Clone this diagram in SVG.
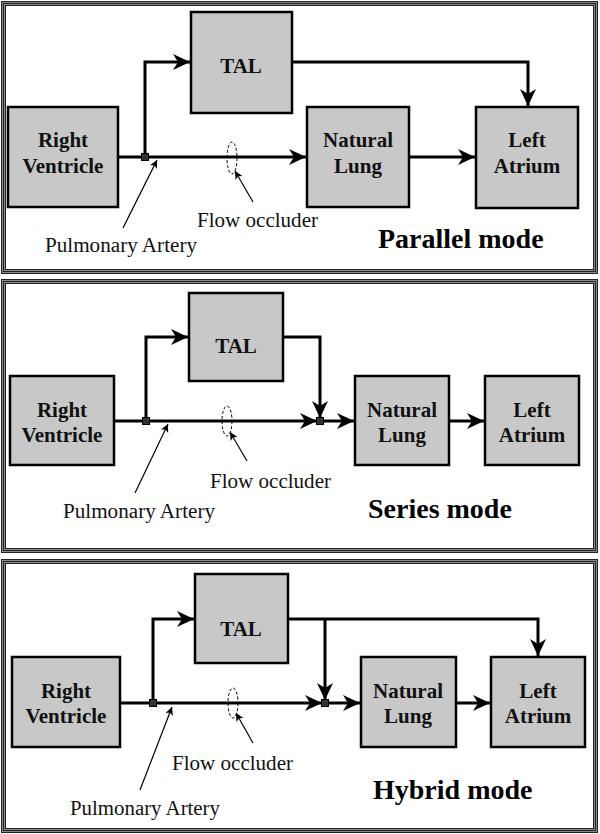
<svg xmlns="http://www.w3.org/2000/svg" width="600" height="834" viewBox="0 0 600 834">
<defs>
<marker id="ah" markerUnits="userSpaceOnUse" markerWidth="20" markerHeight="20" refX="17" refY="8" orient="auto">
<path d="M0,0 L17,8 L0,16 L5,8 z" fill="#000"/>
</marker>
<marker id="ph" markerUnits="userSpaceOnUse" markerWidth="10" markerHeight="10" refX="8" refY="4" orient="auto">
<path d="M0,0 L8,4 L0,8 L2,4 z" fill="#000"/>
</marker>
<style>
.fg{fill:none;stroke:#8a8a8a;stroke-width:5}
.fd{fill:none;stroke:#222;stroke-width:1}
.box{fill:#c8c8c8;stroke:#000;stroke-width:2.5}
.bl{font-family:"Liberation Serif",serif;font-weight:bold;font-size:21px;text-anchor:middle;fill:#111}
.md{font-family:"Liberation Serif",serif;font-weight:bold;font-size:28px;fill:#000}
.lb{font-family:"Liberation Serif",serif;font-size:20px;fill:#111}
.cn{fill:none;stroke:#000;stroke-width:3;marker-end:url(#ah)}
.pt{fill:none;stroke:#000;stroke-width:1.2;marker-end:url(#ph)}
.oc{fill:none;stroke:#000;stroke-width:1;stroke-dasharray:3,2}
.jn{fill:#333;stroke:#000;stroke-width:1}
</style>
</defs>
<rect width="600" height="834" fill="#fff"/>
<g id="frames">
<rect class="fg" x="3.5" y="3.5" width="592" height="268"/>
<rect class="fd" x="1.5" y="1.5" width="596" height="272"/>
<rect class="fd" x="3.5" y="3.5" width="592" height="268"/>
<rect class="fd" x="5.5" y="5.5" width="588" height="264"/>
<rect class="fg" x="3.5" y="281.5" width="592" height="269"/>
<rect class="fd" x="1.5" y="279.5" width="596" height="273"/>
<rect class="fd" x="3.5" y="281.5" width="592" height="269"/>
<rect class="fd" x="5.5" y="283.5" width="588" height="265"/>
<rect class="fg" x="3.5" y="561.5" width="592" height="269"/>
<rect class="fd" x="1.5" y="559.5" width="596" height="273"/>
<rect class="fd" x="3.5" y="561.5" width="592" height="269"/>
<rect class="fd" x="5.5" y="563.5" width="588" height="265"/>
</g>
<g id="connectors">
<path class="cn" d="M118,157 H306"/>
<path class="cn" d="M145,157 V62 H190"/>
<path class="cn" d="M292,62 H528 V106"/>
<path class="cn" d="M409,157 H475"/>
<path class="cn" d="M114,421 H317"/>
<path class="cn" d="M320,421 H354"/>
<path class="cn" d="M146,421 V337 H188"/>
<path class="cn" d="M283,337 H320 V418"/>
<path class="cn" d="M449,421 H484"/>
<path class="cn" d="M120,703 H322"/>
<path class="cn" d="M325,703 H360"/>
<path class="cn" d="M153,703 V619 H194"/>
<path class="cn" d="M288,619 H538 V656"/>
<path class="cn" d="M325,619 V700"/>
<path class="cn" d="M456,703 H490"/>
</g>
<g id="junctions">
<rect class="jn" x="141.5" y="153.5" width="7" height="7"/>
<rect class="jn" x="142.5" y="417.5" width="7" height="7"/>
<rect class="jn" x="316.5" y="417.5" width="7" height="7"/>
<rect class="jn" x="149.5" y="699.5" width="7" height="7"/>
<rect class="jn" x="321.5" y="699.5" width="7" height="7"/>
</g>
<g id="occluders">
<ellipse class="oc" cx="232" cy="158" rx="5" ry="16"/>
<ellipse class="oc" cx="227" cy="421" rx="5" ry="15"/>
<ellipse class="oc" cx="233" cy="703" rx="5" ry="15"/>
</g>
<g id="p1-rv"><rect class="box" x="8" y="107" width="110" height="100"/><text class="bl" x="63" y="147">Right</text><text class="bl" x="63" y="173">Ventricle</text></g>
<g id="p1-tal"><rect class="box" x="191" y="12" width="101" height="101"/><text class="bl" x="241" y="73">TAL</text></g>
<g id="p1-nl"><rect class="box" x="307" y="107" width="102" height="100"/><text class="bl" x="358" y="147">Natural</text><text class="bl" x="358" y="173">Lung</text></g>
<g id="p1-la"><rect class="box" x="476" y="107" width="102" height="101"/><text class="bl" x="527" y="147">Left</text><text class="bl" x="527" y="173">Atrium</text></g>
<g id="p1-labels">
<path class="pt" d="M123,228 L157,160"/>
<text class="lb" x="45" y="252" textLength="152" lengthAdjust="spacingAndGlyphs">Pulmonary Artery</text>
<path class="pt" d="M253,202 L235,171"/>
<text class="lb" x="197" y="227" textLength="121" lengthAdjust="spacingAndGlyphs">Flow occluder</text>
<text class="md" x="378" y="248">Parallel mode</text>
</g>
<g id="p2-rv"><rect class="box" x="10" y="376" width="104" height="89"/><text class="bl" x="62" y="417">Right</text><text class="bl" x="62" y="442">Ventricle</text></g>
<g id="p2-tal"><rect class="box" x="189" y="293" width="94" height="88"/><text class="bl" x="236" y="353">TAL</text></g>
<g id="p2-nl"><rect class="box" x="355" y="376" width="94" height="89"/><text class="bl" x="402" y="417">Natural</text><text class="bl" x="402" y="442">Lung</text></g>
<g id="p2-la"><rect class="box" x="485" y="376" width="94" height="89"/><text class="bl" x="532" y="417">Left</text><text class="bl" x="532" y="442">Atrium</text></g>
<g id="p2-labels">
<path class="pt" d="M135,493 L168,424"/>
<text class="lb" x="63" y="518" textLength="152" lengthAdjust="spacingAndGlyphs">Pulmonary Artery</text>
<path class="pt" d="M247,461 L230,432"/>
<text class="lb" x="210" y="488" textLength="121" lengthAdjust="spacingAndGlyphs">Flow occluder</text>
<text class="md" x="368" y="518">Series mode</text>
</g>
<g id="p3-rv"><rect class="box" x="12" y="657" width="108" height="90"/><text class="bl" x="66" y="698">Right</text><text class="bl" x="66" y="723">Ventricle</text></g>
<g id="p3-tal"><rect class="box" x="195" y="574" width="93" height="89"/><text class="bl" x="241" y="636">TAL</text></g>
<g id="p3-nl"><rect class="box" x="361" y="657" width="95" height="90"/><text class="bl" x="408" y="698">Natural</text><text class="bl" x="408" y="723">Lung</text></g>
<g id="p3-la"><rect class="box" x="491" y="657" width="94" height="90"/><text class="bl" x="538" y="698">Left</text><text class="bl" x="538" y="723">Atrium</text></g>
<g id="p3-labels">
<path class="pt" d="M140,790 L172,707"/>
<text class="lb" x="70" y="815" textLength="150" lengthAdjust="spacingAndGlyphs">Pulmonary Artery</text>
<path class="pt" d="M253,743 L236,713"/>
<text class="lb" x="172" y="770" textLength="121" lengthAdjust="spacingAndGlyphs">Flow occluder</text>
<text class="md" x="373" y="799">Hybrid mode</text>
</g>
</svg>
